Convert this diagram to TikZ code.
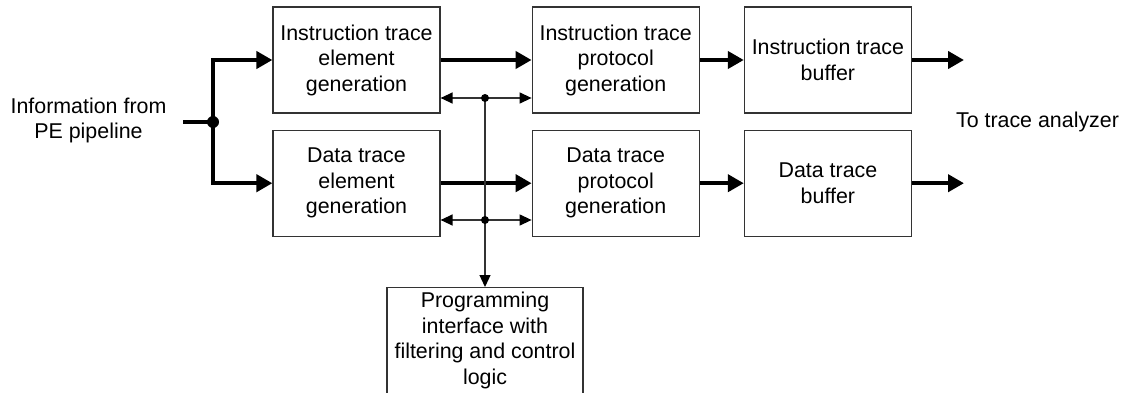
\documentclass[tikz,border=0pt]{standalone}
\usepackage{fontspec}
\setmainfont{Liberation Sans}
\usepackage{tikz}
\usetikzlibrary{positioning, arrows.meta}
\definecolor{linegray}{rgb}{0.2,0.2,0.2}
\tikzstyle{blk}=[%
      rectangle, draw=linegray, line width=1.2pt, fill=none,
      minimum width=167pt, minimum height=106pt, inner sep=0pt, align=center,
      font=\fontsize{21.4}{25.5}\selectfont
]
\tikzstyle{lbl}=[%
      align=center, inner sep=0pt, font=\fontsize{21.4}{25.5}\selectfont
]
\tikzstyle{bus}=[%
      draw=black, line width=4pt, -{Triangle[length=16pt,width=17pt]}
]
\tikzstyle{ctl}=[%
      draw=linegray, line width=1.3pt
]
\tikzset{ctltip/.tip={Triangle[length=12pt,width=11pt,color=black]}}

\begin{document}
\begin{tikzpicture}[x=1pt, y=1pt]
    \useasboundingbox (0,0) rectangle (1131,392);

    \node[blk] (itgen)  at (356.5,332)          {Instruction trace\\element\\generation};
    \node[blk] (itprot) [right = 91pt of itgen]  {Instruction trace\\protocol\\generation};
    \node[blk] (itbuf)  [right = 44pt of itprot] {Instruction trace\\buffer};
    \node[blk] (dtgen)  [below = 16pt of itgen]  {Data trace\\element\\generation};
    \node[blk] (dtprot) [below = 16pt of itprot] {Data trace\\protocol\\generation};
    \node[blk] (dtbuf)  [below = 16pt of itbuf]  {Data trace\\buffer};
    \node[blk, anchor=north, minimum width=196pt] (prog) at (485,105) {Programming\\interface with\\filtering and control\\logic};

    \node[lbl] (src)  at (88.5,271.5)  {Information from\\PE pipeline};
    \node[lbl] (sink) at (1037.5,270)  {To trace analyzer};

    \coordinate (split) at (213,270);
    \coordinate (srcend) at (183,270);
    \coordinate[right = 52pt of itbuf] (itout);
    \coordinate[right = 52pt of dtbuf] (dtout);
    \coordinate (ctlA) at (485,294);
    \coordinate (ctlB) at (485,172);

    % data path
    \draw[line width=4pt] (srcend) -- (split);
    \draw[bus] (split) |- (itgen.west);
    \draw[bus] (split) |- (dtgen.west);
    \draw[bus] (itgen) -- (itprot);
    \draw[bus] (dtgen) -- (dtprot);
    \draw[bus] (itprot) -- (itbuf);
    \draw[bus] (dtprot) -- (dtbuf);
    \draw[bus] (itbuf) -- (itout);
    \draw[bus] (dtbuf) -- (dtout);
    \fill (split) circle (6pt);

    % control path
    \draw[ctl, ctltip-ctltip] (itgen.east |- ctlA) -- (itprot.west |- ctlA);
    \draw[ctl, ctltip-ctltip] (dtgen.east |- ctlB) -- (dtprot.west |- ctlB);
    \draw[ctl, -ctltip] (ctlA) -- (prog.north);
    \fill (ctlA) circle (4pt);
    \fill (ctlB) circle (4pt);
\end{tikzpicture}
\end{document}
